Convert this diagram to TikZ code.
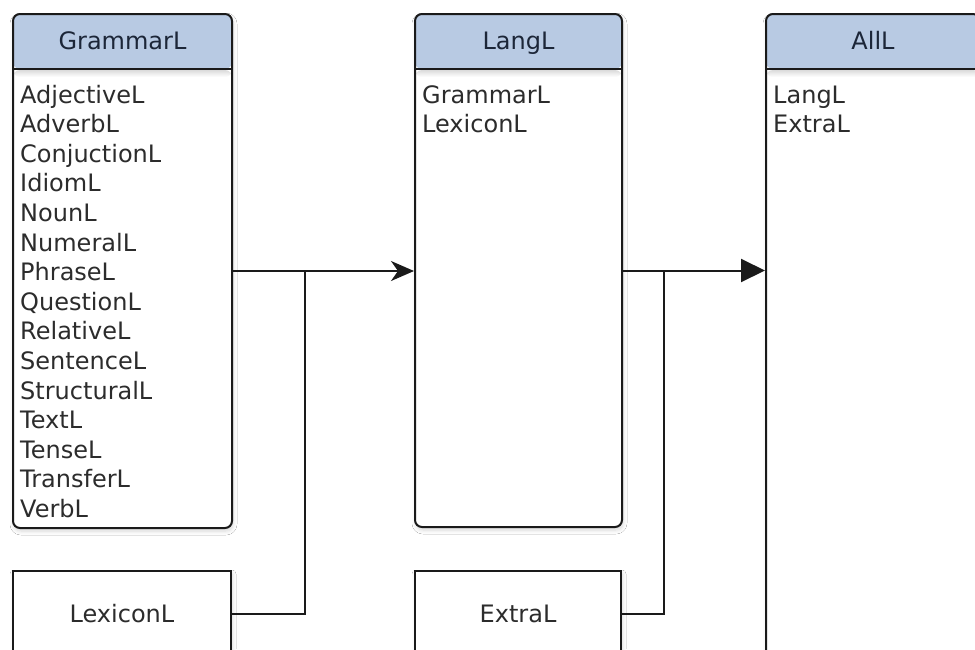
\documentclass[tikz,border=0pt]{standalone}
\usepackage{fontspec}
\setmainfont{DejaVu Sans}
\usetikzlibrary{arrows.meta,shadows.blur,calc}

\definecolor{headfill}{HTML}{B8CAE3}
\definecolor{edgeline}{HTML}{1A1A1A}
\definecolor{headtext}{HTML}{1C2638}
\definecolor{bodytext}{HTML}{2C2C2C}

\begin{document}
\begin{tikzpicture}[x=1pt,y=-1pt,
  boxshadow/.style={blur shadow={shadow xshift=1pt, shadow yshift=-3pt,
      shadow opacity=16, shadow blur steps=6, shadow blur radius=4pt}},
  % class box with a blue title band of the given height
  classbox/.style={draw=edgeline, line width=2pt, fill=white,
      rounded corners=7pt, anchor=north west, inner sep=0pt, boxshadow,
      path picture={
        \fill[headfill] (path picture bounding box.north west)
           rectangle ([yshift=-55pt]path picture bounding box.north east);
        \shade[top color=black!14, bottom color=white]
           ([yshift=-56pt]path picture bounding box.north west)
           rectangle ([yshift=-63pt]path picture bounding box.north east);
        \draw[edgeline, line width=2pt]
           ([yshift=-55pt]path picture bounding box.north west)
           -- ([yshift=-55pt]path picture bounding box.north east);
      }},
  plainbox/.style={draw=edgeline, line width=2pt, fill=white,
      anchor=north west, inner sep=0pt, boxshadow},
  title/.style={font=\fontsize{24}{28}\selectfont, text=headtext,
      inner sep=0pt, anchor=base},
  item/.style={font=\fontsize{24}{28}\selectfont, text=bodytext,
      inner sep=0pt, anchor=base west},
  label/.style={font=\fontsize{24}{28}\selectfont, text=bodytext,
      inner sep=0pt},
  conn/.style={draw=edgeline, line width=2pt}
]
\useasboundingbox (0,0) rectangle (975,649);
\clip (0,0) rectangle (975,649);
\fill[white] (0,0) rectangle (975,649);

% class boxes
\node[classbox, minimum width=219pt, minimum height=514pt] (gram) at (12,13) {};
\node[classbox, minimum width=207pt, minimum height=513pt] (lang) at (414,13) {};
\node[classbox, minimum width=214pt, minimum height=700pt] (all)  at (765,13) {};
\node[plainbox, minimum width=218pt, minimum height=86pt] (lex)   at (12,570) {};
\node[plainbox, minimum width=206pt, minimum height=86pt] (extra) at (414,570) {};

% titles
\node[title] (gram-title) at ($(gram.north)+(0,36)$) {GrammarL};
\node[title] (lang-title) at ($(lang.north)+(0,36)$) {LangL};
\node[title] (all-title)  at ($(all.north)+(0,36)$)  {AllL};
\node[label] (lex-label)   at (lex.center)   {LexiconL};
\node[label] (extra-label) at (extra.center) {ExtraL};

% members
\foreach \w [count=\i] in {AdjectiveL,AdverbL,ConjuctionL,IdiomL,NounL,
    NumeralL,PhraseL,QuestionL,RelativeL,SentenceL,StructuralL,TextL,
    TenseL,TransferL,VerbL}
  \node[item] (gram-\i) at (20,{103+(\i-1)*29.6}) {\w};
\foreach \w [count=\i] in {GrammarL,LexiconL}
  \node[item] (lang-\i) at (422,{103+(\i-1)*29.6}) {\w};
\foreach \w [count=\i] in {LangL,ExtraL}
  \node[item] (all-\i) at (773,{103+(\i-1)*29.6}) {\w};

% connectors
\coordinate (j1) at ($(gram.east)+(72,0)$);
\coordinate (j2) at ($(lang.east)+(41,0)$);
\draw[conn, -{Stealth[length=23pt,width=20pt,inset=7pt]}]
  (gram.east) -- (gram.east -| lang.west);
\draw[conn] (lex.east) -| (j1);
\draw[conn, -{Triangle[length=24pt,width=23pt]}]
  (lang.east) -- (lang.east -| all.west);
\draw[conn] (extra.east) -| (j2);
\end{tikzpicture}
\end{document}
